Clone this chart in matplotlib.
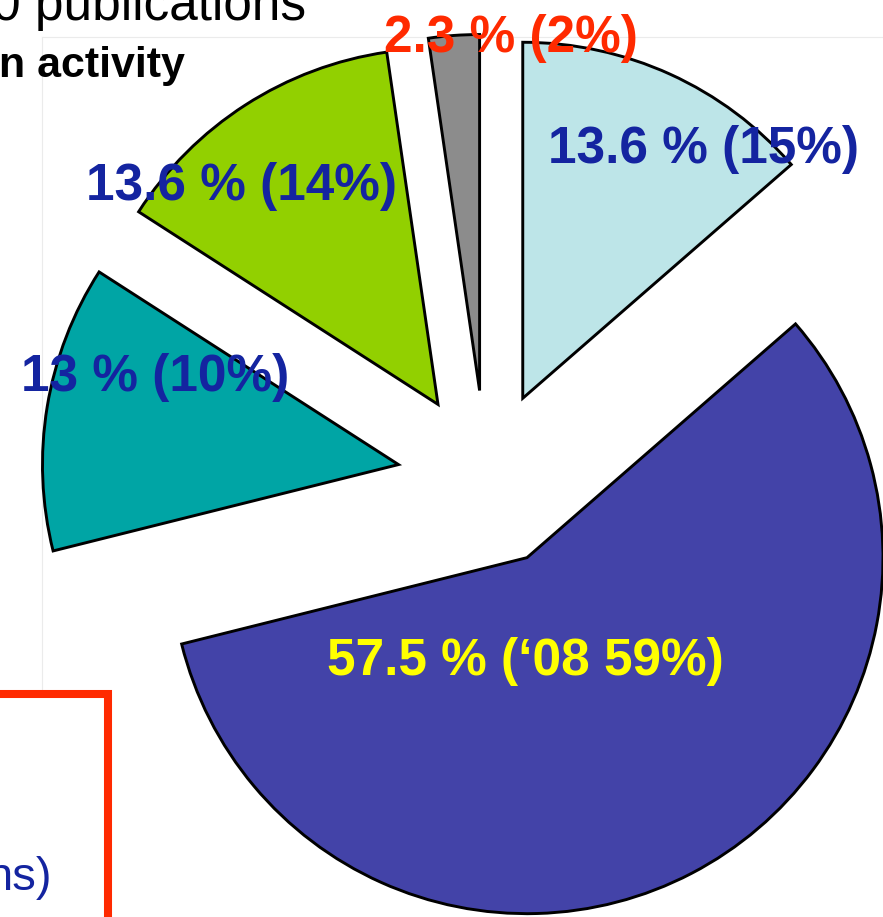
import matplotlib
matplotlib.use("Agg")
import matplotlib.pyplot as plt
from matplotlib.patches import Rectangle

plt.rcParams['font.family'] = ['Liberation Sans', 'DejaVu Sans']

# slice data, clockwise from 12 o'clock
shares = [13.6, 57.5, 13.0, 13.6, 2.3]
labels = ['13.6 % (15%)', '57.5 % (\u201808 59%)', '13 % (10%)', '13.6 % (14%)', '2.3 % (2%)']
colors = ['#bde5e8', '#4343a8', '#00a5a5', '#92d000', '#8c8c8c']
label_colors = ['#1424a0', '#ffff00', '#1424a0', '#1424a0', '#ff2a00']

W, H = 883, 917
fig = plt.figure(figsize=(W / 100, H / 100), dpi=100)
ax = fig.add_axes([0, 0, 1, 1])

def Y(y):
    # image row -> data y
    return H - y

# faint plot-area border of the original slide
ax.plot([42, W], [Y(37), Y(37)], color='#ebebeb', lw=0.8, zorder=0)
ax.plot([42, 42], [Y(37), Y(690)], color='#ebebeb', lw=0.8, zorder=0)

wedges, _ = ax.pie(shares, colors=colors, startangle=90, counterclock=False,
                   center=(486, Y(479)), radius=356, explode=[88.7] * len(shares),
                   wedgeprops=dict(edgecolor='black', linewidth=2.1))

# label positions (x centre, baseline row)
label_pos = [(703, 163), (525, 675), (155, 391), (241, 200), (511, 52)]
for lab, col, (lx, ly) in zip(labels, label_colors, label_pos):
    ax.text(lx, Y(ly), lab, color=col, fontsize=37, fontweight='bold',
            ha='center', va='baseline', zorder=5)

# leftovers of the slide text around the chart
ax.text(-38, Y(20), '>0 publications', fontsize=37, ha='left', va='baseline')
ax.text(185, Y(77), 'n activity', fontsize=31, fontweight='bold', ha='right', va='baseline')
ax.text(52, Y(890), 'ns)', fontsize=34, color='#1424a0', ha='right', va='baseline')

# red frame in the lower left corner
ax.add_patch(Rectangle((-30, -30), 138, Y(694) + 30, fill=False,
                       edgecolor='#ff2a00', linewidth=5.8, zorder=3))

ax.set_xlim(0, W)
ax.set_ylim(0, H)
ax.set_aspect('equal')
ax.axis('off')

plt.savefig('out.png', dpi=100)
